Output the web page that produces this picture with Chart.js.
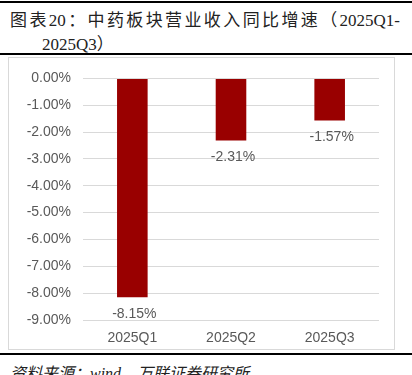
<!DOCTYPE html>
<html>
<head>
<meta charset="utf-8">
<script src="https://cdn.jsdelivr.net/npm/chart.js@4.4.0/dist/chart.umd.min.js"></script>
<style>
  html, body { margin: 0; padding: 0; background: #fff; }
  body { width: 412px; height: 375px; position: relative; overflow: hidden; }
  .rule { position: absolute; left: 0; width: 412px; background: #000; }
  .title { position: absolute; left: 10px; width: 390px; font-family: "Liberation Serif", "Noto Sans CJK SC", serif; font-size: 17px; color: #222; }
  .box { position: absolute; left: 8px; top: 57px; width: 387px; height: 293px; border: 1px solid #d9d9d9; box-sizing: border-box; }
  .box canvas { position: absolute; left: 0; top: 0; }
  .foot { position: absolute; left: 10px; top: 360px; font-family: "Liberation Serif", "Noto Sans CJK SC", serif; font-style: italic; font-size: 16px; color: #222; }
</style>
</head>
<body>
<div class="rule" style="top:1px;height:2px"></div>
<div class="title" style="top:6px;text-align:justify;text-align-last:justify;">图表20：中药板块营业收入同比增速（2025Q1-</div>
<div class="title" style="top:30px;left:42px;width:auto;">2025Q3）</div>
<div class="rule" style="top:53px;height:2px"></div>
<div class="box"><canvas id="chartCanvas" width="385" height="291"></canvas></div>
<div class="rule" style="top:353px;height:2px"></div>
<div class="foot">资料来源：wind，万联证券研究所</div>
<script>
// categories and values (%)
const quarters = ['2025Q1', '2025Q2', '2025Q3'];
const growthValues = [-8.15, -2.31, -1.57];
const yTicks = [0, -1, -2, -3, -4, -5, -6, -7, -8, -9];

const barColor = '#990000';
const textColor = '#595959';

// value labels under the end of each bar
const valueLabels = {
    id: 'valueLabels',
    afterDatasetsDraw(chart) {
        const ctx = chart.ctx;
        const meta = chart.getDatasetMeta(0);
        ctx.save();
        ctx.font = '14px "Liberation Sans", Arial, sans-serif';
        ctx.fillStyle = textColor;
        ctx.textAlign = 'center';
        ctx.textBaseline = 'middle';
        meta.data.forEach((bar, i) => {
            ctx.fillText(growthValues[i].toFixed(2) + '%', bar.x + 2, bar.y + 17);
        });
        ctx.restore();
    }
};

new Chart(document.getElementById('chartCanvas'), {
    type: 'bar',
    data: {
        labels: quarters,
        datasets: [{
            data: growthValues,
            backgroundColor: barColor,
            borderWidth: 0,
            categoryPercentage: 1,
            barPercentage: 0.31
        }]
    },
    options: {
        responsive: false,
        animation: false,
        layout: { padding: { top: 12, right: 15, bottom: 0, left: 0 } },
        plugins: {
            legend: { display: false },
            tooltip: { enabled: false }
        },
        scales: {
            x: {
                afterFit: (scale) => { scale.height = 29; },
                grid: { display: false, drawTicks: false },
                border: { display: false },
                ticks: {
                    color: textColor,
                    font: { size: 14, family: '"Liberation Sans", Arial, sans-serif' },
                    padding: 10
                }
            },
            y: {
                min: -9,
                max: 0,
                afterBuildTicks: (scale) => { scale.ticks = yTicks.map(v => ({ value: v })); },
                afterFit: (scale) => { scale.width = 74; },
                grid: { color: '#d9d9d9', drawTicks: false },
                border: { display: false },
                ticks: {
                    color: textColor,
                    font: { size: 14, family: '"Liberation Sans", Arial, sans-serif' },
                    padding: 12,
                    callback: (v) => v.toFixed(2) + '%'
                }
            }
        }
    },
    plugins: [valueLabels]
});
</script>
</body>
</html>
